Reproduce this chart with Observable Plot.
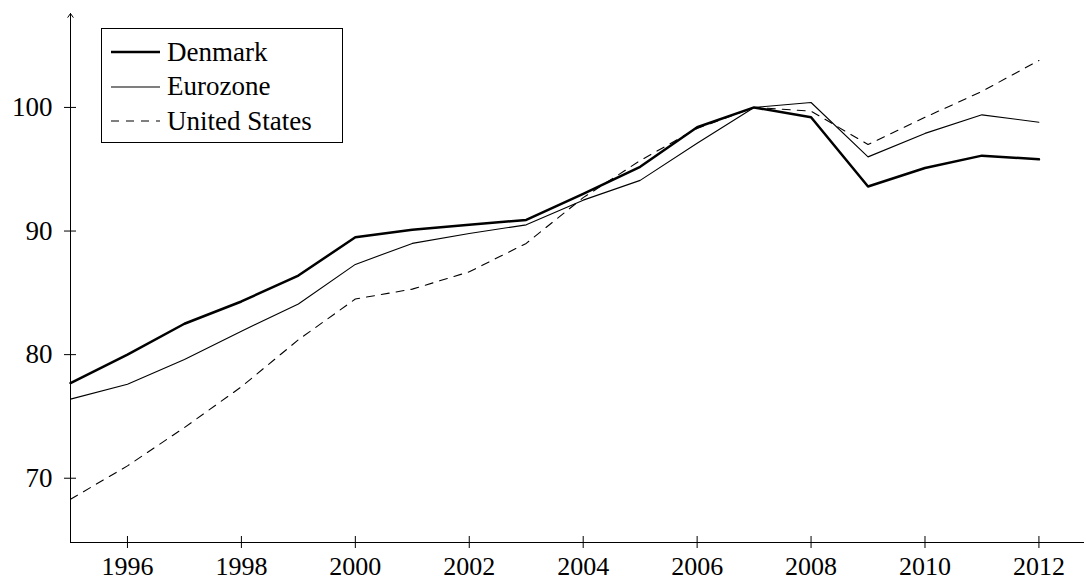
<!DOCTYPE html>
<html>
<head>
<meta charset="utf-8">
<script src="https://cdn.jsdelivr.net/npm/d3@7"></script>
<script src="https://cdn.jsdelivr.net/npm/@observablehq/plot@0.6"></script>
<style>
  html, body { margin: 0; padding: 0; background: #fff; }
  #wrap { position: relative; width: 1086px; height: 581px; font-family: "Liberation Serif", "DejaVu Serif", serif; }
  #legend { position: absolute; left: 101px; top: 28px; width: 242px; height: 115px; border: 1px solid #000; box-sizing: border-box; background: #fff; }
  .row { position: absolute; left: 0; height: 34px; display: flex; align-items: center; }
  .row svg { margin-left: 9px; }
  .row span { margin-left: 7px; font-size: 27px; line-height: 1; color: #000; }
</style>
</head>
<body>
<div id="wrap"></div>
<script>
const years = [1995,1996,1997,1998,1999,2000,2001,2002,2003,2004,2005,2006,2007,2008,2009,2010,2011,2012];
const denmark = [77.7,80.0,82.5,84.3,86.4,89.5,90.1,90.5,90.9,93.0,95.2,98.4,100.0,99.2,93.6,95.1,96.1,95.8];
const eurozone = [76.4,77.6,79.6,81.9,84.1,87.3,89.0,89.8,90.5,92.5,94.1,97.1,100.0,100.4,96.0,97.9,99.4,98.8];
const unitedStates = [68.3,71.0,74.1,77.4,81.2,84.5,85.3,86.7,89.0,92.7,95.7,98.3,100.0,99.7,97.0,99.2,101.3,103.8];
const seriesNames = ["Denmark", "Eurozone", "United States"];
const xTicks = [1996,1998,2000,2002,2004,2006,2008,2010,2012];
const yTicks = [70,80,90,100];

const xDomain = [1995, 2012.8];
const yDomain = [64.8, 107.6];

const rows = [];
[denmark, eurozone, unitedStates].forEach((vals, i) => {
  years.forEach((yr, j) => rows.push({series: seriesNames[i], year: yr, value: vals[j]}));
});
const sel = name => rows.filter(d => d.series === name);

const font = '"Liberation Serif", "DejaVu Serif", serif';

const chart = Plot.plot({
  width: 1086,
  height: 581,
  marginLeft: 70,
  marginRight: 2,
  marginTop: 13,
  marginBottom: 39,
  style: {fontFamily: font, fontSize: "27px", color: "#000", background: "#fff", overflow: "visible"},
  x: {domain: xDomain},
  y: {domain: yDomain},
  marks: [
    // axis lines
    Plot.ruleY([yDomain[0]], {x1: xDomain[0], x2: xDomain[1], stroke: "#000", strokeWidth: 1}),
    Plot.arrow([{x1: xDomain[0], y1: yDomain[0], x2: xDomain[0], y2: yDomain[1]}], {x1: "x1", y1: "y1", x2: "x2", y2: "y2", stroke: "#000", strokeWidth: 1, headLength: 7, headAngle: 70}),
    // crossing tick marks
    Plot.axisX({ticks: xTicks, tickSize: 12, dy: -6, tickFormat: () => "", label: null, strokeWidth: 1}),
    Plot.axisY({ticks: yTicks, tickSize: 12, dx: 6, tickFormat: () => "", label: null, strokeWidth: 1}),
    // tick labels
    Plot.axisX({ticks: xTicks, tickSize: 0, tickPadding: 14, tickFormat: d => String(d), label: null, fontSize: 26}),
    Plot.axisY({ticks: yTicks, tickSize: 0, tickPadding: 18, tickFormat: d => String(d), label: null, fontSize: 27}),
    // series
    Plot.line(sel("United States"), {x: "year", y: "value", stroke: "#000", strokeWidth: 1.1, strokeDasharray: "8,7"}),
    Plot.line(sel("Eurozone"), {x: "year", y: "value", stroke: "#000", strokeWidth: 1.1}),
    Plot.line(sel("Denmark"), {x: "year", y: "value", stroke: "#000", strokeWidth: 2.5})
  ]
});

const wrap = document.getElementById("wrap");
wrap.appendChild(chart);

const legend = document.createElement("div");
legend.id = "legend";
const styles = [
  {w: 2.5, dash: null},
  {w: 1.1, dash: null},
  {w: 1.1, dash: "8,7"}
];
seriesNames.forEach((name, i) => {
  const row = document.createElement("div");
  row.className = "row";
  row.style.top = (6 + i * 34.5) + "px";
  const s = styles[i];
  row.innerHTML = `<svg width="49" height="10"><line x1="0" y1="5" x2="49" y2="5" stroke="#000" stroke-width="${s.w}" ${s.dash ? `stroke-dasharray="${s.dash}"` : ""}/></svg><span>${name}</span>`;
  legend.appendChild(row);
});
wrap.appendChild(legend);
</script>
</body>
</html>
